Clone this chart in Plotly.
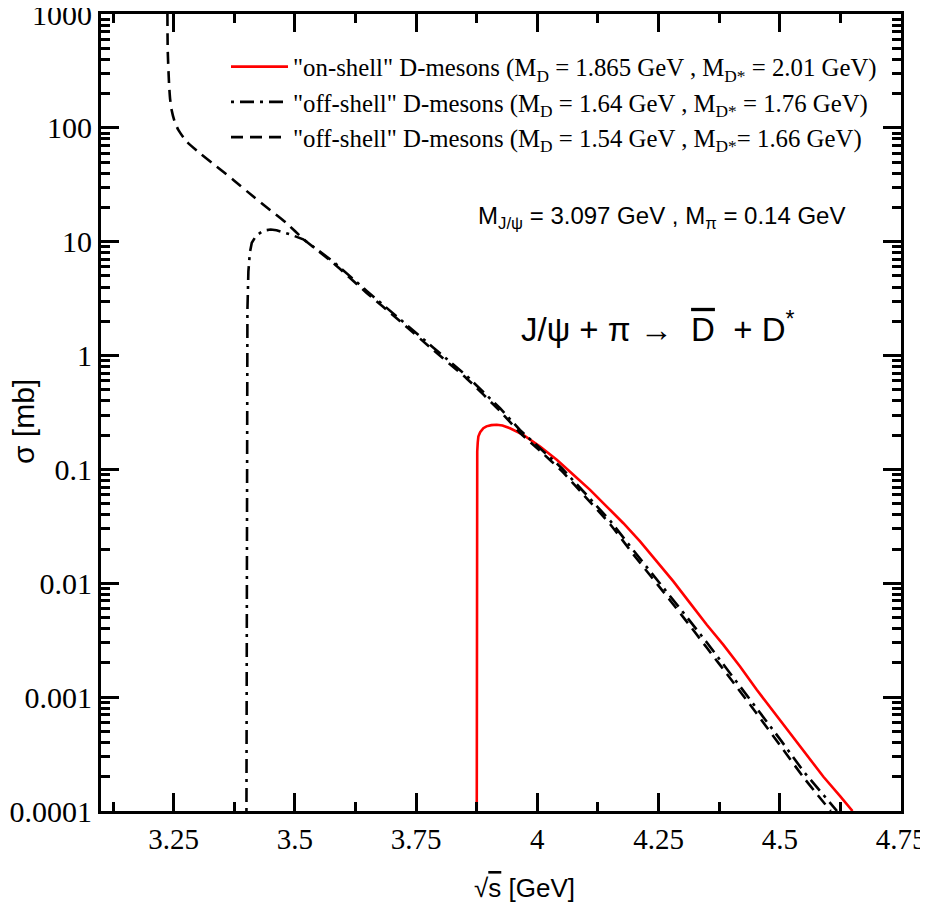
import plotly.graph_objects as go

# ---------------- data ----------------
x_on = [3.875, 3.8752, 3.8755, 3.876, 3.877, 3.8783, 3.882, 3.8886, 3.895, 3.905, 3.9162,
        3.928, 3.9436, 3.971, 4.0055,
        4.040, 4.0742, 4.1087, 4.1431, 4.1774, 4.2118, 4.2462, 4.2805, 4.315, 4.3494,
        4.3837, 4.418, 4.4525, 4.4868, 4.5212, 4.5556, 4.590, 4.6244, 4.650]
y_on = [1e-4, 0.005, 0.06, 0.1436, 0.172, 0.1945, 0.212, 0.230, 0.239, 0.245, 0.2466,
        0.243, 0.230, 0.201, 0.159,
        0.1214, 0.0897, 0.0662, 0.0472, 0.0337, 0.0233, 0.0155, 0.0104, 0.0067, 0.00432,
        0.00288, 0.00186, 0.00116, 7.5e-4, 4.8e-4, 3.1e-4, 2.0e-4, 1.35e-4, 1.0e-4]

x_off1 = [3.400, 3.4005, 3.401, 3.402, 3.404, 3.407, 3.411, 3.420, 3.435, 3.450, 3.462,
          3.490, 3.517, 3.579, 3.648, 3.717, 3.785, 3.854, 3.923, 3.964, 4.006, 4.05,
          4.095, 4.15, 4.20, 4.25, 4.30, 4.35, 4.40, 4.45, 4.50, 4.55, 4.618]
y_off1 = [1e-4, 0.01, 0.5, 2.5, 5.5, 8.0, 9.8, 11.3, 12.5, 12.8, 12.6,
          11.6, 10.5, 6.7, 3.7, 2.1, 1.18, 0.665, 0.345, 0.222, 0.153, 0.103,
          0.064, 0.0355, 0.019, 0.0104, 0.0056, 0.003, 0.00158, 8.3e-4, 4.3e-4, 2.2e-4, 1.0e-4]

x_off2 = [3.237, 3.2376, 3.2403, 3.2425, 3.2458, 3.2520, 3.2595, 3.2768, 3.304, 3.3387, 3.373,
          3.4142, 3.4486, 3.483, 3.517, 3.579, 3.648, 3.717, 3.785, 3.854, 3.923, 3.964,
          4.006, 4.05, 4.095, 4.15, 4.20, 4.25, 4.30, 4.35, 4.40, 4.45, 4.50, 4.55, 4.605]
y_off2 = [1000, 483, 247, 180, 143, 113, 96, 75.7, 59.8, 45.6, 34.9,
          24.9, 19.0, 14.5, 10.6, 6.5, 3.55, 2.0, 1.12, 0.63, 0.325, 0.21,
          0.145, 0.097, 0.060, 0.033, 0.0175, 0.0095, 0.0051, 0.0027, 0.00142, 7.4e-4, 3.8e-4,
          1.95e-4, 1.0e-4]

names = [
    '"on-shell" D-mesons (M<sub>D</sub> = 1.865 GeV , M<sub>D*</sub> = 2.01 GeV)',
    '"off-shell" D-mesons (M<sub>D</sub> = 1.64 GeV , M<sub>D*</sub> = 1.76 GeV)',
    '"off-shell" D-mesons (M<sub>D</sub> = 1.54 GeV , M<sub>D*</sub>= 1.66 GeV)',
]

x_tickvals = [3.25, 3.5, 3.75, 4.0, 4.25, 4.5, 4.75]
x_ticktext = ["3.25", "3.5", "3.75", "4", "4.25", "4.5", "4.75"]
y_tickvals = [1e-4, 1e-3, 1e-2, 1e-1, 1, 10, 100, 1000]
y_ticktext = ["0.0001", "0.001", "0.01", "0.1", "1", "10", "100", "1000"]

# page-pixel -> paper helpers (plot area spans page x 101..901, y 14..811)
def px(xp):
    return (xp - 101) / 800.0

def py(yp):
    return 1 - (yp - 14) / 797.0

# ---------------- figure ----------------
fig = go.Figure()
fig.add_trace(go.Scatter(x=x_on, y=y_on, mode="lines", name=names[0], legendgroup="a",
                         line=dict(color="#ff0000", width=2.6)))
fig.add_trace(go.Scatter(x=x_off1, y=y_off1, mode="lines", name=names[1], legendgroup="b",
                         line=dict(color="black", width=2.6, dash="3px,6px,14px,6px")))
fig.add_trace(go.Scatter(x=x_off2, y=y_off2, mode="lines", name=names[2], legendgroup="c",
                         line=dict(color="black", width=2.6, dash="12px,7px",
                                   shape="spline", smoothing=0.6)))

minor_y = [k * 10.0 ** n for n in range(-4, 3) for k in range(2, 10)]

fig.update_layout(
    width=928, height=913,
    margin=dict(l=93, r=35, t=6, b=110),
    paper_bgcolor="white", plot_bgcolor="white",
    showlegend=True,
    legend=dict(x=px(226), y=py(44), xanchor="left", yanchor="top",
                bgcolor="rgba(0,0,0,0)", borderwidth=0, itemwidth=57,
                tracegroupgap=0,
                font=dict(family="Liberation Serif", size=24.8, color="black")),
    xaxis=dict(
        range=[3.1, 4.75], tickmode="array", tickvals=x_tickvals, ticktext=x_ticktext,
        ticks="inside", ticklen=18, tickwidth=2.5, tickcolor="black",
        showline=True, linewidth=3, linecolor="black", mirror="ticks",
        showgrid=False, zeroline=False, automargin=False, ticklabeloverflow="allow",
        minor=dict(ticks="inside", ticklen=9, tickwidth=2.5, tickcolor="black",
                   dtick=0.125, tick0=3.125, showgrid=False),
        tickfont=dict(family="Liberation Serif", size=29, color="black"),
    ),
    yaxis=dict(
        type="log", range=[-4, 3], tickmode="array", tickvals=y_tickvals, ticktext=y_ticktext,
        ticks="inside", ticklen=18, tickwidth=2.5, tickcolor="black",
        showline=True, linewidth=3, linecolor="black", mirror="ticks",
        showgrid=False, zeroline=False, automargin=False, ticklabeloverflow="allow",
        minor=dict(ticks="inside", ticklen=9, tickwidth=2.5, tickcolor="black",
                   tickmode="array", tickvals=minor_y, showgrid=False),
        tickfont=dict(family="Liberation Serif", size=30, color="black"),
    ),
)

# axis titles
fig.add_annotation(
    x=px(524), y=py(888), xref="paper", yref="paper",
    text="√<span style='text-decoration:overline'>s</span> [GeV]",
    showarrow=False, font=dict(family="Liberation Sans", size=26, color="black"),
    xanchor="center", yanchor="middle")
fig.add_annotation(
    x=px(23), y=py(422), xref="paper", yref="paper", textangle=-90,
    text="σ [mb]",
    showarrow=False, font=dict(family="Liberation Sans", size=30, color="black"),
    xanchor="center", yanchor="middle")

# in-plot labels
fig.add_annotation(
    x=px(661), y=py(217), xref="paper", yref="paper",
    text="M<sub>J/ψ</sub> = 3.097 GeV , M<sub>π</sub> = 0.14 GeV",
    showarrow=False, font=dict(family="Liberation Sans", size=24, color="black"),
    xanchor="center", yanchor="middle")
fig.add_annotation(
    x=px(658), y=py(327), xref="paper", yref="paper",
    text="J/ψ + π →  <span style='text-decoration:overline'>D</span>  + D<sup>*</sup>",
    showarrow=False, font=dict(family="Liberation Sans", size=33, color="black"),
    xanchor="center", yanchor="middle")

fig.write_html("out.html")
